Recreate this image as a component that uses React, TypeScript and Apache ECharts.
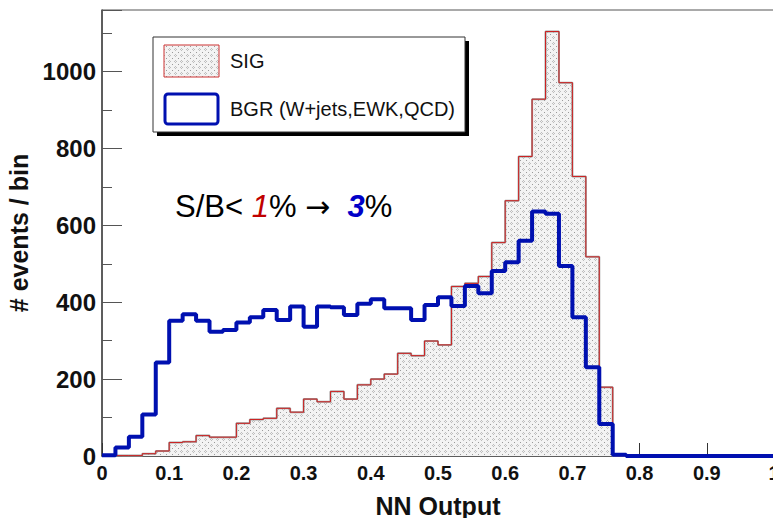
import React, { useEffect, useRef } from 'react';
import * as echarts from 'echarts';

// Histogram: 50 bins of width 0.02 on [0, 1]
const BIN_WIDTH = 0.02;
const X_MIN = 0;
const X_MAX = 1;
const Y_MAX = 1160;

const sigCounts = [
  1, 1, 1, 6, 13, 35, 37, 53, 49, 49,
  85, 95, 98, 124, 114, 148, 141, 168, 148, 185,
  200, 213, 267, 261, 299, 289, 441, 449, 467, 555,
  664, 779, 928, 1104, 971, 727, 518, 179, 0, 0,
  0, 0, 0, 0, 0, 0, 0, 0, 0, 0,
];

const bgrCounts = [
  2, 22, 50, 108, 243, 352, 369, 352, 323, 328,
  347, 361, 380, 354, 389, 336, 389, 387, 367, 396,
  408, 384, 384, 354, 393, 413, 390, 442, 423, 481,
  504, 560, 636, 630, 494, 361, 231, 83, 3, 0,
  0, 0, 0, 0, 0, 0, 0, 0, 0, 0,
];

const legendLabels = ['SIG', 'BGR (W+jets,EWK,QCD)'];
const xTitle = 'NN Output';
const yTitle = '# events / bin';

const FONT = '"Liberation Sans", Arial, Helvetica, sans-serif';

function toStep(counts: number[]) {
  const pts: [number, number][] = counts.map((v, i) => [+(X_MIN + i * BIN_WIDTH).toFixed(4), v]);
  pts.push([X_MAX, counts[counts.length - 1]]);
  return pts;
}

function makePattern(): HTMLCanvasElement {
  const c = document.createElement('canvas');
  c.width = 6;
  c.height = 6;
  const ctx = c.getContext('2d')!;
  ctx.fillStyle = '#f3f3f3';
  ctx.fillRect(0, 0, 6, 6);
  ctx.fillStyle = '#bdbdbd';
  ctx.fillRect(1, 0, 1, 1);
  ctx.fillRect(0, 1, 1, 1);
  ctx.fillRect(2, 1, 1, 1);
  ctx.fillRect(1, 2, 1, 1);
  ctx.fillStyle = '#9a9a9a';
  ctx.fillRect(4, 4, 1, 1);
  return c;
}

export default function App() {
  const ref = useRef<HTMLDivElement>(null);

  useEffect(() => {
    if (!ref.current) return;
    const chart = echarts.init(ref.current, undefined, { renderer: 'svg' });
    const pattern = { image: makePattern(), repeat: 'repeat' };

    const option: any = {
      animation: false,
      backgroundColor: '#fff',
      textStyle: { fontFamily: FONT },
      grid: {
        left: 102,
        top: 10,
        width: 672,
        height: 446,
        show: true,
        borderColor: '#555',
        borderWidth: 1,
        backgroundColor: 'transparent',
        containLabel: false,
        outerBoundsMode: 'none',
      },
      xAxis: {
        type: 'value',
        min: X_MIN,
        max: X_MAX,
        interval: 0.1,
        name: xTitle,
        nameLocation: 'middle',
        nameGap: 37,
        nameTextStyle: { fontSize: 25, fontWeight: 'bold', color: '#111', fontFamily: FONT },
        axisLine: { lineStyle: { color: '#444', width: 1.5 } },
        axisTick: { inside: true, length: 13, lineStyle: { color: '#333', width: 1 } },
        axisLabel: { fontSize: 20, fontWeight: 'bold', color: '#111', margin: 7, fontFamily: FONT },
        splitLine: { show: false },
      },
      yAxis: {
        type: 'value',
        min: 0,
        max: Y_MAX,
        interval: 200,
        name: yTitle,
        nameLocation: 'middle',
        nameGap: 66,
        nameRotate: 90,
        nameTextStyle: { fontSize: 25, fontWeight: 'bold', color: '#111', fontFamily: FONT },
        axisLine: { show: true, lineStyle: { color: '#444', width: 1.5 } },
        axisTick: { show: true, inside: true, length: 20, lineStyle: { color: '#555', width: 1 } },
        minorTick: { show: true, splitNumber: 2, length: 10, lineStyle: { color: '#555', width: 1 } },
        axisLabel: {
          fontSize: 24,
          fontWeight: 'bold',
          color: '#111',
          margin: 6,
          showMaxLabel: false,
          fontFamily: FONT,
          formatter: (v: number) => String(v),
        },
        splitLine: { show: false },
      },
      series: [
        {
          name: legendLabels[0],
          type: 'line',
          step: 'end',
          data: toStep(sigCounts),
          showSymbol: false,
          symbol: 'none',
          lineStyle: { color: '#a0a0a0', width: 2 },
          areaStyle: { color: pattern, opacity: 1 },
          z: 2,
        },
        {
          name: legendLabels[0] + '-edge',
          type: 'line',
          step: 'end',
          data: toStep(sigCounts),
          showSymbol: false,
          symbol: 'none',
          lineStyle: { color: '#cc2020', width: 1 },
          z: 3,
        },
        {
          name: legendLabels[1],
          type: 'line',
          step: 'end',
          data: toStep(bgrCounts),
          showSymbol: false,
          symbol: 'none',
          lineStyle: { color: '#0010b0', width: 4 },
          z: 4,
        },
      ],
      graphic: [
        { type: 'rect', shape: { x: 157, y: 41, width: 312, height: 95 }, style: { fill: '#000' }, z: 10 },
        { type: 'rect', shape: { x: 153, y: 37, width: 312, height: 95 }, style: { fill: '#fff', stroke: '#333', lineWidth: 1 }, z: 11 },
        { type: 'rect', shape: { x: 164, y: 45, width: 55, height: 32 }, style: { fill: pattern, stroke: '#c33', lineWidth: 1 }, z: 12 },
        { type: 'rect', shape: { x: 165, y: 94, width: 53, height: 30, r: 3 }, style: { fill: '#fff', stroke: '#0010b0', lineWidth: 3 }, z: 12 },
        {
          type: 'text', x: 230, y: 61, z: 12,
          style: { text: legendLabels[0], fontSize: 20, fill: '#111', verticalAlign: 'middle', fontFamily: FONT },
        },
        {
          type: 'text', x: 230, y: 109, z: 12,
          style: { text: legendLabels[1], fontSize: 20, fill: '#111', verticalAlign: 'middle', fontFamily: FONT },
        },
        {
          type: 'text', x: 175, y: 206, z: 12,
          style: {
            text: '{a|S/B< }{r|1}{a|% }{c|→}{a|  }{b|3}{a|%}',
            verticalAlign: 'middle',
            rich: {
              a: { fontSize: 31, fill: '#000', fontFamily: FONT },
              r: { fontSize: 31, fill: '#c00000', fontStyle: 'italic', fontFamily: FONT },
              b: { fontSize: 31, fill: '#0000c8', fontStyle: 'italic', fontWeight: 'bold', fontFamily: FONT },
              c: { fontSize: 30, fill: '#000', fontFamily: '"DejaVu Sans", sans-serif' },
            },
          },
        },
      ],
    };

    chart.setOption(option);
    return () => chart.dispose();
  }, []);

  return (
    <div style={{ position: 'fixed', left: 0, top: 0, width: 773, height: 518, overflow: 'hidden', background: '#fff' }}>
      <div ref={ref} style={{ width: 773, height: 518, overflow: 'hidden' }} />
    </div>
  );
}
